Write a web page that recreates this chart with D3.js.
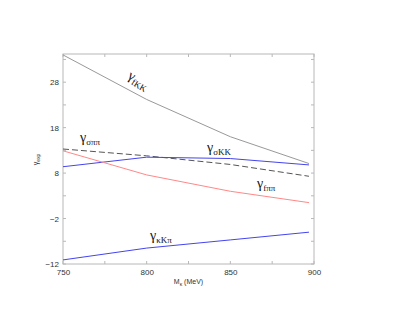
<!DOCTYPE html>
<html>
<head>
<meta charset="utf-8">
<script src="https://cdn.jsdelivr.net/npm/d3@7"></script>
<style>
  body { margin: 0; background: #fff; }
  svg { display: block; }
  .tick text { font-family: "Liberation Sans", Arial, sans-serif; font-size: 8px; fill: #333; }
  .lab { font-family: "Liberation Serif", "DejaVu Serif", serif; fill: #111; }
</style>
</head>
<body>
<div id="chart"></div>
<script>
// datos
const masses = [750, 800, 850, 897];
const gammaFKK = [34.0, 24.2, 16.0, 10.1];
const gammaSigmaPiPi = [13.3, 11.8, 9.9, 7.3];
const gammaSigmaKK = [9.4, 11.5, 11.2, 9.8];
const gammaFPiPi = [12.9, 7.6, 4.0, 1.5];
const gammaKappaKPi = [-11.1, -8.5, -6.7, -5.0];

const xTicks = [750, 800, 850, 900];
const yTicks = [-12, -2, 8, 18, 28];

const width = 412, height = 319;
const margin = { left: 63, right: 98, top: 54, bottom: 55 };

const svg = d3.select("#chart").append("svg")
  .attr("width", width)
  .attr("height", height);

const x = d3.scaleLinear().domain([750, 900]).range([margin.left, width - margin.right]);
const y = d3.scaleLinear().domain([-12, 34.2]).range([height - margin.bottom, margin.top]);

const frame = "#b8b8b8";

// marco
svg.append("rect")
  .attr("x", x(750)).attr("y", y(34.2))
  .attr("width", x(900) - x(750)).attr("height", y(-12) - y(34.2))
  .attr("fill", "none").attr("stroke", frame).attr("stroke-width", 1);

// ticks menores hacia dentro
const xMinor = d3.range(750, 901, 25);
const yMinor = d3.range(-12, 34, 5);

const tickG = svg.append("g").attr("stroke", frame).attr("stroke-width", 1);
xMinor.forEach(v => {
  tickG.append("line").attr("x1", x(v)).attr("x2", x(v)).attr("y1", y(-12)).attr("y2", y(-12) - 3);
  tickG.append("line").attr("x1", x(v)).attr("x2", x(v)).attr("y1", y(34.2)).attr("y2", y(34.2) + 3);
});
yMinor.forEach(v => {
  tickG.append("line").attr("y1", y(v)).attr("y2", y(v)).attr("x1", x(750)).attr("x2", x(750) + 3);
  tickG.append("line").attr("y1", y(v)).attr("y2", y(v)).attr("x1", x(900)).attr("x2", x(900) - 3);
});

// ejes
const xAxis = svg.append("g")
  .attr("transform", `translate(0,${y(-12)})`)
  .call(d3.axisBottom(x).tickValues(xTicks).tickSize(0).tickPadding(5).tickFormat(d3.format("d")));
xAxis.select(".domain").remove();

const yAxis = svg.append("g")
  .attr("transform", `translate(${x(750)},0)`)
  .call(d3.axisLeft(y).tickValues(yTicks).tickSize(0).tickPadding(4).tickFormat(d => d < 0 ? "\u2212" + Math.abs(d) : d));
yAxis.select(".domain").remove();

// títulos de ejes
const xt = svg.append("text")
  .attr("x", (x(750) + x(900)) / 2)
  .attr("y", y(-12) + 20)
  .attr("text-anchor", "middle")
  .attr("font-family", "Liberation Sans, Arial, sans-serif")
  .attr("font-size", 7).attr("fill", "#333");
xt.append("tspan").text("M");
xt.append("tspan").attr("font-size", 5).attr("dy", 1.5).text("\u03ba");
xt.append("tspan").attr("dy", -1.5).text(" (MeV)");

const yt = svg.append("text")
  .attr("transform", `translate(${x(750) - 25},${y(11)}) rotate(-90)`)
  .attr("text-anchor", "middle")
  .attr("font-family", "Liberation Sans, Arial, sans-serif")
  .attr("font-size", 7).attr("fill", "#333");
yt.append("tspan").text("\u03b3");
yt.append("tspan").attr("font-size", 5).attr("dy", 1.5).text("exp");

// líneas
const line = d3.line().x((d, i) => x(masses[i])).y(d => y(d));

const series = [
  { v: gammaFKK, color: "#999", dash: null },
  { v: gammaSigmaPiPi, color: "#555", dash: "6,3" },
  { v: gammaSigmaKK, color: "#4444ee", dash: null },
  { v: gammaFPiPi, color: "#ff8888", dash: null },
  { v: gammaKappaKPi, color: "#4444ee", dash: null }
];

svg.append("g").selectAll("path")
  .data(series)
  .enter()
  .append("path")
  .attr("d", d => line(d.v))
  .attr("fill", "none")
  .attr("stroke", d => d.color)
  .attr("stroke-width", 1)
  .attr("stroke-dasharray", d => d.dash);

// etiquetas
function label(px, py, sub, rot) {
  const t = svg.append("text").attr("class", "lab")
    .attr("transform", `translate(${px},${py}) rotate(${rot || 0})`)
    .attr("font-size", 14);
  t.append("tspan").text("\u03b3");
  t.append("tspan").attr("font-size", 9).attr("dy", 3).text(sub);
}

label(127, 78, "fKK", 32);
label(80, 142, "\u03c3\u03c0\u03c0", 0);
label(207, 152, "\u03c3KK", 0);
label(257, 188, "f\u03c0\u03c0", 0);
label(150, 240, "\u03baK\u03c0", 0);
</script>
</body>
</html>
